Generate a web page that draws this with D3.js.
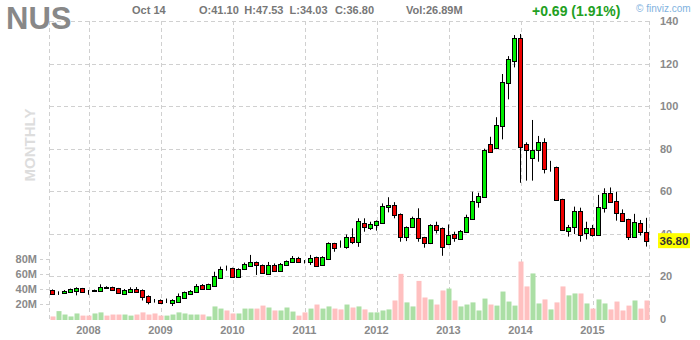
<!DOCTYPE html>
<html><head><meta charset="utf-8">
<script src="https://cdnjs.cloudflare.com/ajax/libs/d3/7.8.5/d3.min.js"></script>
<style>html,body{margin:0;padding:0;background:#fff;}svg{display:block;font-family:Arial,"Liberation Sans",sans-serif;}</style>
</head><body>
<script>
// ---- data (monthly, Jul 2007 .. Oct 2015) ----
const startMonth = new Date(2007, 6, 1);
const open  = [13.6,12.3,12.1,12.5,13.3,14.4,13.3,13.2,13.0,14.9,14.9,14.4,11.6,12.8,14.1,13.6,10.6,8.6,8.9,7.8,7.4,8.2,10.0,11.9,12.6,16.1,14.3,15.5,19.4,23.7,23.8,19.9,23.3,25.0,26.6,25.2,21.3,25.6,22.7,25.2,26.6,28.8,26.9,26.6,29.0,25.2,28.0,35.5,33.9,33.9,38.3,36.2,44.9,42.9,44.3,45.2,52.5,53.6,49.3,38.7,43.1,47.3,38.3,35.5,44.2,42.6,35.1,39.9,37.6,41.0,47.1,54.8,57.2,82.2,80.2,90.7,110.7,121.4,131.9,82.2,75.5,79.4,83.0,70.5,71.3,56.2,41.5,43.1,50.9,40.3,42.6,39.5,52.3,59.0,55.6,50.0,46.8,38.4,44.9,41.10];
const high  = [13.9,13.0,13.6,14.3,14.9,14.6,13.6,13.8,16.3,15.4,15.2,14.6,14.1,14.9,15.0,13.9,11.1,9.4,9.2,9.6,9.3,12.0,12.9,13.6,16.4,16.4,16.6,22.2,24.6,25.1,24.1,23.8,26.5,30.1,27.0,25.6,26.8,26.1,26.3,27.5,29.6,29.2,27.7,30.1,29.3,29.5,36.0,35.8,36.9,39.7,42.6,47.3,47.3,45.7,46.3,54.3,57.2,54.9,49.6,43.5,48.1,52.0,38.6,44.5,45.7,43.0,44.4,41.0,41.8,49.0,59.8,59.3,80.0,85.6,94.8,115.1,123.5,133.4,133.9,83.0,93.5,86.0,84.9,74.3,71.6,56.5,44.2,52.8,52.3,45.7,44.2,58.3,61.4,61.8,59.8,51.5,47.1,49.4,46.5,47.53];
const low   = [11.6,11.3,11.9,12.3,11.1,12.6,11.4,12.9,12.8,14.2,13.3,11.8,11.3,12.5,12.6,8.7,6.9,7.7,7.2,7.5,6.1,8.0,9.8,11.7,12.4,14.0,14.1,15.3,19.2,22.7,19.6,19.6,23.0,24.8,20.7,21.2,21.0,22.2,22.3,24.9,26.3,26.3,26.1,25.4,24.6,24.9,27.7,31.6,33.5,33.0,35.2,33.9,41.0,41.8,41.5,44.9,50.1,47.3,36.3,36.6,42.8,36.3,33.5,35.2,40.2,29.7,34.7,36.3,37.2,40.7,46.8,52.3,56.9,78.2,79.8,84.4,103.2,118.2,64.0,65.0,65.0,73.9,68.4,69.2,55.5,41.5,38.7,39.9,36.3,37.4,38.7,39.2,50.0,54.7,46.2,45.9,37.1,38.1,39.2,34.03];
const close = [11.9,12.3,13.3,14.1,14.4,12.8,13.3,13.5,14.9,14.6,13.8,12.0,13.6,13.9,12.8,10.2,8.2,8.6,7.4,7.8,8.9,10.8,12.7,13.3,15.5,14.3,16.4,20.2,23.5,23.7,19.9,23.5,25.8,26.6,25.3,21.5,25.2,22.5,25.8,27.1,28.5,26.6,26.9,28.5,25.0,29.0,35.5,33.5,33.9,38.3,36.3,45.9,43.1,44.4,46.0,53.1,53.6,48.7,38.7,43.1,47.3,37.9,35.5,44.2,41.8,33.9,39.4,37.9,41.4,47.8,55.4,57.8,79.4,78.6,91.0,111.2,122.0,131.9,80.9,79.4,79.4,83.0,70.3,70.3,55.9,41.8,43.4,50.9,39.5,42.6,39.5,52.8,59.0,55.0,49.6,46.2,38.4,45.4,41.0,36.80];
const volume = [1.2,3.7,2.1,1.2,2.6,1.6,1.6,2.6,3.1,1.6,2.1,2.1,2.1,1.6,2.1,3.1,2.1,2.6,1.6,1.6,2.1,3.1,2.6,2.1,2.1,2.1,1.2,5.9,4.9,4.0,2.6,2.6,4.9,4.9,4.9,6.3,5.4,4.0,4.0,5.4,3.5,1.6,3.1,4.9,6.8,4.9,5.9,4.9,4.5,6.8,5.4,5.9,4.5,3.1,3.1,4.0,4.5,8.7,21.2,7.8,5.9,17.9,10.1,9.2,6.8,13.4,14.3,8.7,5.9,6.8,7.8,4.0,9.6,6.8,6.3,12.9,8.2,6.3,27.0,15.3,21.4,7.3,9.2,4.5,7.8,15.3,11.1,12.0,12.0,7.3,4.9,9.2,7.3,4.5,8.2,4.0,6.3,8.7,4.9,8.7];
const volUp  = [0,1,1,1,1,0,0,1,1,0,0,0,1,1,0,0,0,0,0,1,1,1,1,1,1,0,1,1,1,0,0,1,1,1,0,0,1,0,1,1,1,0,0,1,0,1,1,0,0,1,0,1,0,1,1,1,1,0,0,1,1,0,0,1,0,0,1,0,1,1,1,1,1,0,1,1,1,1,0,0,1,1,0,1,0,0,1,1,0,1,0,1,1,0,0,0,0,1,0,0];
const priceTicks = [0,20,40,60,80,100,120,140];
const gridTicks  = [20,40,60,80,100,120,140];
const yearLabels = ["2008","2009","2010","2011","2012","2013","2014","2015"];
const leftVolTicks = [20,40,60,80];
const leftVolLabels = ["20M","40M","60M","80M"];
const ticker = "NUS";
const dateLabel = "Oct 14";
const ohlcLabels = ["O:41.10","H:47.53","L:34.03","C:36.80"];
const volLabel = "Vol:26.89M";
const changeLabel = "+0.69 (1.91%)";
const lastPrice = 36.80;

const months = d3.range(open.length).map(i => d3.timeFormat("%Y-%m")(d3.timeMonth.offset(startMonth, i)));
const data = months.map((m, i) => ({m, o: open[i], h: high[i], l: low[i], c: close[i], v: volume[i], up: volUp[i]}));

const W = 700, H = 340;
const svg = d3.select("body").append("svg").attr("width", W).attr("height", H);

const x = d3.scaleBand().domain(months).range([49.5, 649.5]).paddingInner(0).paddingOuter(0);
const cx = m => x(m) + x.bandwidth() / 2;
const y = d3.scaleLinear().domain([0, 140]).range([319, 21]);
const yLeftVol = d3.scaleLinear().domain([0, 80]).range([319, 259]);
const crisp = v => Math.round(v) + 0.5;

const gridColor = "#d0d0d0", dash = "4,3";
// vertical grid
const vx = [49.5, ...yearLabels.map(yr => crisp(cx(yr + "-01")) ), 649.5];
svg.append("g").selectAll("line").data(vx).join("line")
  .attr("x1", d => d).attr("x2", d => d).attr("y1", 21).attr("y2", 319)
  .attr("stroke", gridColor).attr("stroke-dasharray", dash);
// horizontal grid
svg.append("g").selectAll("line").data(gridTicks).join("line")
  .attr("x1", 50).attr("x2", 650).attr("y1", d => crisp(y(d))).attr("y2", d => crisp(y(d)))
  .attr("stroke", gridColor).attr("stroke-dasharray", dash);

// volume bars
svg.append("g").selectAll("rect").data(data).join("rect")
  .attr("x", d => Math.round(x(d.m)) + 0.5).attr("width", 5)
  .attr("y", d => y(d.v)).attr("height", d => y(0) + 1 - y(d.v))
  .attr("fill", d => d.up ? "#abdfa5" : "#ffc0c0");

// candles
const cg = svg.append("g");
cg.selectAll("line").data(data).join("line")
  .attr("x1", d => crisp(cx(d.m) - 0.5)).attr("x2", d => crisp(cx(d.m) - 0.5))
  .attr("y1", d => y(d.h)).attr("y2", d => y(d.l))
  .attr("stroke", "#000").attr("stroke-width", 1);
cg.selectAll("rect").data(data).join("rect")
  .attr("x", d => crisp(cx(d.m) - 0.5) - 2).attr("width", 4)
  .attr("y", d => crisp(y(Math.max(d.o, d.c))))
  .attr("height", d => Math.max(0, Math.round(y(Math.min(d.o, d.c))) - Math.round(y(Math.max(d.o, d.c)))))
  .attr("fill", d => d.c > d.o ? "#00ee00" : (d.c < d.o ? "#ee0000" : "#000"))
  .attr("stroke", "#000").attr("stroke-width", 1);

// right axis labels
svg.append("g").selectAll("text").data(priceTicks).join("text")
  .attr("x", 660).attr("y", d => y(d)).attr("dy", "0.36em")
  .attr("font-size", 11).attr("font-weight", "bold").attr("fill", "#8a8a8a")
  .text(d => d);
// last price box
const ly = y(lastPrice);
svg.append("rect").attr("x", 658).attr("y", ly - 7.5).attr("width", 32).attr("height", 15).attr("fill", "#ffff00");
svg.append("text").attr("x", 659.5).attr("y", ly).attr("dy", "0.36em")
  .attr("font-size", 11.5).attr("font-weight", "bold").attr("fill", "#333").text(lastPrice.toFixed(2));

// left volume labels
const lg = svg.append("g");
lg.selectAll("text").data(leftVolTicks).join("text")
  .attr("x", 37).attr("y", d => yLeftVol(d)).attr("dy", "0.36em").attr("text-anchor", "end")
  .attr("font-size", 11).attr("font-weight", "bold").attr("fill", "#8a8a8a")
  .text((d, i) => leftVolLabels[i]);
lg.selectAll("line").data(leftVolTicks).join("line")
  .attr("x1", 40).attr("x2", 50).attr("y1", d => crisp(yLeftVol(d))).attr("y2", d => crisp(yLeftVol(d)))
  .attr("stroke", gridColor).attr("stroke-dasharray", "3,3");

// year labels
svg.append("g").selectAll("text").data(yearLabels).join("text")
  .attr("x", d => cx(d + "-01")).attr("y", 333.5).attr("text-anchor", "middle")
  .attr("font-size", 11).attr("font-weight", "bold").attr("fill", "#8a8a8a").text(d => d);

// MONTHLY
svg.append("text").attr("transform", "translate(35,145) rotate(-90)").attr("text-anchor", "middle")
  .attr("font-size", 15).attr("font-weight", "bold").attr("fill", "#dddddd").text("MONTHLY");

// header
svg.append("text").attr("x", 6).attr("y", 28.5).attr("font-size", 31).attr("font-weight", "bold")
  .attr("fill", "#888").text(ticker);
svg.append("text").attr("x", 132).attr("y", 14).attr("font-size", 11).attr("font-weight", "bold")
  .attr("fill", "#777").text(dateLabel);
svg.append("g").selectAll("text").data(ohlcLabels).join("text")
  .attr("x", (d, i) => 199 + i * 45.3).attr("y", 14).attr("font-size", 11).attr("font-weight", "bold")
  .attr("fill", "#777").text(d => d);
svg.append("text").attr("x", 406).attr("y", 14).attr("font-size", 11).attr("font-weight", "bold")
  .attr("fill", "#777").text(volLabel);
svg.append("text").attr("x", 532).attr("y", 15.5).attr("font-size", 14).attr("font-weight", "bold")
  .attr("fill", "#22a022").text(changeLabel);
svg.append("text").attr("x", 636).attr("y", 11.5).attr("font-size", 10)
  .attr("fill", "#7fb2e0").text("\u00a9 finviz.com");
</script>
</body></html>
